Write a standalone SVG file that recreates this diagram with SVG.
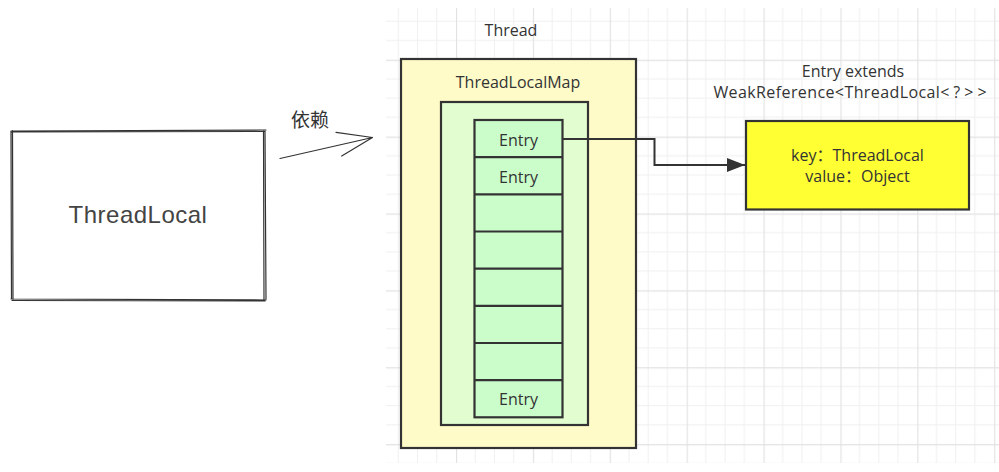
<svg xmlns="http://www.w3.org/2000/svg" width="999" height="472" viewBox="0 0 999 472">
  <defs>
    <pattern id="grid" patternUnits="userSpaceOnUse" x="456" y="59.7" width="76.88" height="76.88">
      <path d="M19.22 0V76.88M38.44 0V76.88M57.66 0V76.88M0 19.22H76.88M0 38.44H76.88M0 57.66H76.88" stroke="#f0f0f0" stroke-width="1" fill="none"/>
      <path d="M0.5 0V76.88M0 0.5H76.88" stroke="#e2e2e2" stroke-width="1.3" fill="none"/>
    </pattern>
    <marker id="arr" markerUnits="userSpaceOnUse" markerWidth="20" markerHeight="14" refX="18" refY="7" orient="auto">
      <path d="M0 0L18 7L0 14Z" fill="#333"/>
    </marker>
    <style>
      .lbl { font-family: "Open Sans", "Noto Sans", "Liberation Sans", "Noto Sans CJK SC", sans-serif; font-size: 16px; fill: #333; text-anchor: middle; }
      .box { stroke: #333; stroke-width: 2.2; }
      .sk { fill: none; stroke: #333; stroke-width: 1.2; stroke-linecap: round; }
    </style>
  </defs>
  <rect width="999" height="472" fill="#fff"/>
  <rect x="386" y="8" width="613" height="455" fill="url(#grid)"/>

  <g id="threadlocal">
    <path class="sk" d="M11 131 L266 130 M12 132 L265 131.5 M11 131 L11.5 299 M12.5 130.5 L13 300 M265 130 L266 299 M263.5 131 L264 300 M11 299 L266 300 M12 300.5 L265 301"/>
    <text x="138" y="223" font-family="'Comic Sans MS', 'Liberation Sans', sans-serif" font-size="24" fill="#444" text-anchor="middle" font-weight="300" letter-spacing="0.5">ThreadLocal</text>
  </g>

  <g id="depends">
    <path class="sk" d="M280 158.5 L372.5 137.5 M336 132.3 L372.5 137.5 M341.7 156 L372.5 137.5"/>
    <text x="310" y="127" font-family="'Noto Sans CJK SC', sans-serif" font-size="19" fill="#333" text-anchor="middle">依赖</text>
  </g>

  <g id="thread">
    <rect class="box" x="401" y="59" width="235" height="389" fill="#fefbc9"/>
    <text class="lbl" x="511" y="36">Thread</text>
  </g>

  <g id="threadlocalmap">
    <rect class="box" x="441" y="102" width="147" height="323" fill="#e2fdd0"/>
    <text class="lbl" x="518" y="88">ThreadLocalMap</text>
  </g>

  <g id="entries">
    <rect class="box" x="474.5" y="120" width="88" height="297.3" fill="#cbfdcb"/>
    <path class="box" fill="none" d="M474.5 157.2H562.5M474.5 194.3H562.5M474.5 231.5H562.5M474.5 268.7H562.5M474.5 305.9H562.5M474.5 343H562.5M474.5 380.2H562.5"/>
    <text class="lbl" x="518.5" y="145.5">Entry</text>
    <text class="lbl" x="518.5" y="182.5">Entry</text>
    <text class="lbl" x="518.5" y="405">Entry</text>
  </g>

  <g id="entrynode">
    <rect class="box" x="746" y="121" width="223" height="88.5" fill="#ffff33"/>
    <text class="lbl" x="857.5" y="161">key：ThreadLocal</text>
    <text class="lbl" x="857.5" y="182">value：Object</text>
    <text class="lbl" x="853" y="76.5">Entry extends</text>
    <text class="lbl" x="852" y="97.5" letter-spacing="0.4">WeakReference&lt;ThreadLocal<tspan letter-spacing="4">&lt;?&gt;&gt;</tspan></text>
  </g>

  <g id="connectors">
    <path d="M563 139H654.5V165H745" fill="none" stroke="#333" stroke-width="2" marker-end="url(#arr)"/>
  </g>
</svg>
